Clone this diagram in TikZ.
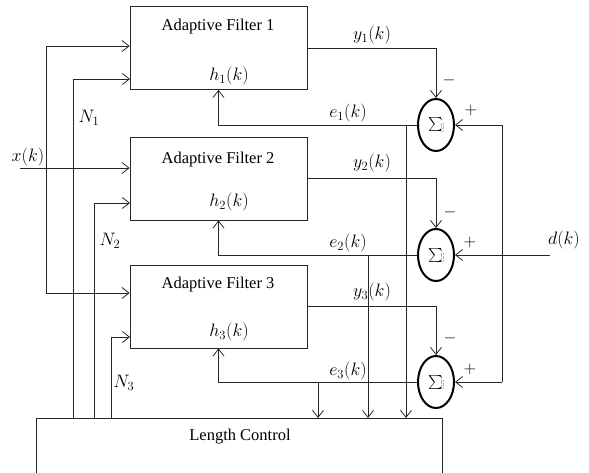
\RequirePackage{fix-cm}
\documentclass[tikz,border=0pt]{standalone}
\usepackage{graphicx}
\usepackage{fontspec}
\setmainfont{Liberation Serif}
\usetikzlibrary{arrows.meta,shapes.geometric}
\begin{document}
\begin{tikzpicture}[x=1pt,y=-1pt,
  lbl/.style={font=\fontsize{16.5}{20}\selectfont, inner sep=0pt},
  mlbl/.style={font=\fontsize{18}{22}\selectfont, inner sep=0pt},
  fbox/.style={draw=black!85, line width=0.8pt, minimum width=177pt, minimum height=83pt, inner sep=0pt},
  sumnode/.style={ellipse, draw=black, line width=2pt, minimum width=36pt, minimum height=52pt, inner sep=0pt},
  conn/.style={draw=black!85, line width=0.8pt},
  arr/.style={conn, -{Straight Barb[length=7pt,width=11pt]}}]
\useasboundingbox (0,0) rectangle (589,473);
% filters
\node[fbox] (f1) at (218.5,48) {};
\node[fbox] (f2) at (218.5,178.5) {};
\node[fbox] (f3) at (218.5,306.5) {};
\node[lbl] (t1) at (218,27) {Adaptive Filter 1};
\node[lbl] (t2) at (218,160) {Adaptive Filter 2};
\node[lbl] (t3) at (218,285) {Adaptive Filter 3};
\node[mlbl] (h1) at (229,76) {$h_1(k)$};
\node[mlbl] (h2) at (229,202) {$h_2(k)$};
\node[mlbl] (h3) at (229,332) {$h_3(k)$};
% length control (open at the bottom edge of the picture)
\coordinate (lcl) at (36,418);
\coordinate (lcr) at (442,418);
\draw[conn] (36,480) -- (lcl) -- (lcr) -- (442,480);
\node[lbl] (lc) at (240,437) {Length Control};
% summing junctions
\node[sumnode] (s1) at (436,125) {\scalebox{1.4}{$\sum$}\hspace{4pt}};
\node[sumnode] (s2) at (436,255) {\scalebox{1.4}{$\sum$}\hspace{4pt}};
\node[sumnode] (s3) at (436,382) {\scalebox{1.4}{$\sum$}\hspace{4pt}};
\foreach \s in {s1,s2,s3}{
  \draw[gray!60, densely dotted, line width=0.4pt] ([xshift=5pt,yshift=-6pt]\s.center) rectangle ++(2pt,8pt);
}
% outputs y
\draw[arr] (f1.east) -| (s1.north);
\draw[arr] (f2.east) -| (s2.north);
\draw[arr] (f3.east) -| (s3.north);
\node[mlbl] (y1) at (372,35) {$y_1(k)$};
\node[mlbl] (y2) at (372,163) {$y_2(k)$};
\node[mlbl] (y3) at (372,292) {$y_3(k)$};
\node[lbl] (m1) at (449,80) {$-$};
\node[lbl] (m2) at (450,212) {$-$};
\node[lbl] (m3) at (450,338) {$-$};
% errors e
\draw[arr] (s1.west) -| (f1.south);
\draw[arr] (s2.west) -| (f2.south);
\draw[arr] (s3.west) -| (f3.south);
\node[mlbl] (e1) at (348,113) {$e_1(k)$};
\node[mlbl] (e2) at (348,243) {$e_2(k)$};
\node[mlbl] (e3) at (348,371) {$e_3(k)$};
\coordinate (b1) at (406,125);
\coordinate (b2) at (368,255);
\coordinate (b3) at (318,382);
\draw[arr] (b1) -- (b1 |- lcl);
\draw[arr] (b2) -- (b2 |- lcl);
\draw[arr] (b3) -- (b3 |- lcl);
% desired d
\coordinate (din) at (550,255);
\coordinate (dt) at (502,125);
\coordinate (db) at (502,382);
\draw[arr] (din) -- (s2.east);
\draw[conn] (dt) -- (db);
\draw[arr] (dt) -- (s1.east);
\draw[arr] (db) -- (s3.east);
\node[mlbl] (dl) at (564,240) {$d(k)$};
\node[lbl] (p1) at (471,110) {$+$};
\node[lbl] (p2) at (470,242) {$+$};
\node[lbl] (p3) at (470,369) {$+$};
% input x
\coordinate (xin) at (20,168);
\coordinate (xj) at (46,168);
\node[mlbl] (xl) at (28,157) {$x(k)$};
\draw[arr] (xin) -- (xin -| f2.west);
\draw[arr] (xj) |- (46,46 -| f1.west);
\draw[arr] (xj) |- (46,293 -| f3.west);
% lengths N
\coordinate (n1) at (73,418);
\coordinate (n2) at (94,418);
\coordinate (n3) at (111,418);
\draw[arr] (n1) |- (130,79);
\draw[arr] (n2) |- (130,203);
\draw[arr] (n3) |- (130,337);
\node[mlbl] (N1) at (89,118) {$N_1$};
\node[mlbl] (N2) at (110,241) {$N_2$};
\node[mlbl] (N3) at (124,383) {$N_3$};
\end{tikzpicture}
\end{document}
